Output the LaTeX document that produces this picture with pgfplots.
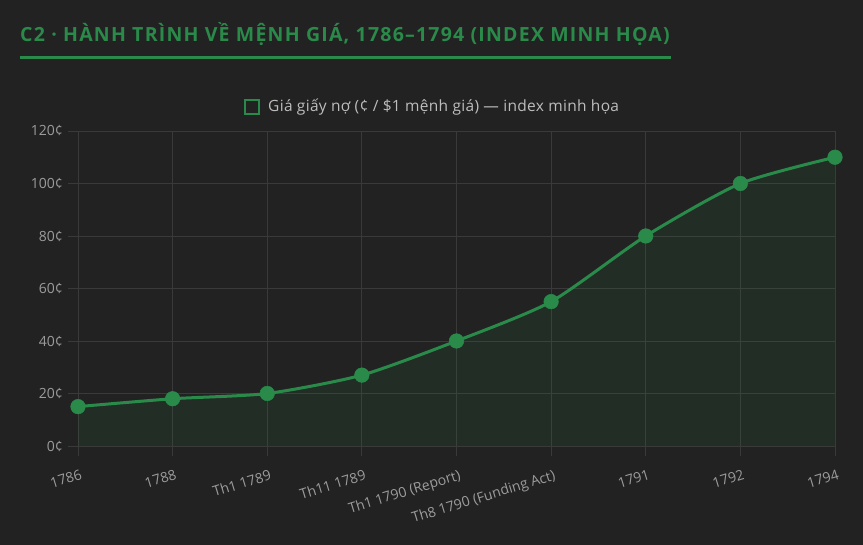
\documentclass[border=0pt]{standalone}
\usepackage{fontspec}
\setmainfont{Open Sans}
\usepackage{pgfplots}
\pgfplotsset{compat=1.18}
\definecolor{bg}{HTML}{222222}
\definecolor{gridc}{HTML}{3A3A3A}
\definecolor{gr}{HTML}{2A8A4A}
\definecolor{lbl}{HTML}{9C9C9C}
\definecolor{leg}{HTML}{BDBDBD}
\begin{document}
\begin{tikzpicture}
\path[use as bounding box, fill=bg] (0pt,0pt) rectangle (863pt,545pt);
\node[anchor=base west, inner sep=0pt, text=gr, font=\fontsize{19.5}{22}\selectfont\bfseries\addfontfeatures{LetterSpace=6.3}] at (20pt,503pt) {C2 · HÀNH TRÌNH VỀ MỆNH GIÁ, 1786–1794 (INDEX MINH HỌA)};
\draw[gr, line width=3pt] (20pt,487pt) -- (671pt,487pt);
\node[anchor=west, inner sep=0pt, text=leg, font=\fontsize{15.5}{17}\selectfont\addfontfeatures{LetterSpace=2}] at (268pt,438pt) {Giá giấy nợ (¢ / \$1 mệnh giá) — index minh họa};
\draw[gr, line width=2.5pt] (245pt,431pt) rectangle (259pt,445pt);
\begin{axis}[
  at={(78pt,99pt)}, anchor=south west,
  scale only axis, width=757pt, height=315pt,
  xmin=0, xmax=8, ymin=0, ymax=120,
  axis line style={draw=none},
  xtick={0,...,8},
  xticklabels={1786,1788,Th1 1789,Th11 1789,Th1 1790 (Report),Th8 1790 (Funding Act),1791,1792,1794},
  ytick={0,20,...,120},
  yticklabel={\pgfmathprintnumber{\tick}¢},
  /pgf/number format/assume math mode=true,
  xtick pos=bottom, ytick pos=left,
  grid=both, grid style={gridc, line width=0.8pt},
  tick style={gridc, line width=0.8pt},
  tick align=outside, major tick length=10pt,
  xticklabel style={rotate=17, anchor=north east, text=lbl, font=\fontsize{14}{16}\selectfont, inner sep=0pt, yshift=-13pt, xshift=-2pt},
  yticklabel style={text=lbl, font=\fontsize{14}{16}\selectfont, inner sep=0pt, xshift=-5pt},
  clip=false,
]
\addplot[draw=none, fill=gr, fill opacity=0.11, smooth, tension=0.4] coordinates {
(0,15) (1,18) (2,20) (3,27) (4,40) (5,55) (6,80) (7,100) (8,110)} \closedcycle;
\addplot[gr, line width=3pt, smooth, tension=0.4, mark=*, mark size=7.3pt, mark options={fill=gr, draw=gr, line width=0.5pt}] coordinates {
(0,15) (1,18) (2,20) (3,27) (4,40) (5,55) (6,80) (7,100) (8,110)};
\end{axis}
\end{tikzpicture}
\end{document}
